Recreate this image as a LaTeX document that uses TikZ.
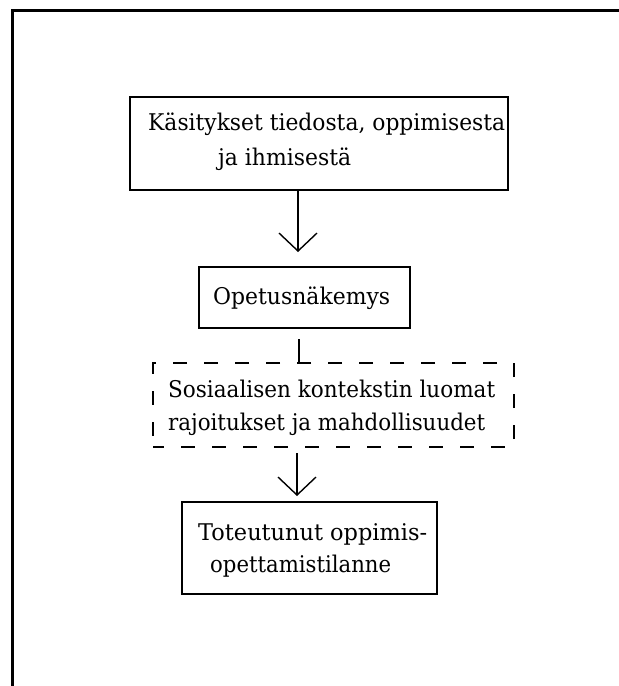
\documentclass[tikz,border=0pt]{standalone}
\usepackage{graphicx}
\usepackage{fontspec}
\setmainfont{DejaVu Serif}
\usetikzlibrary{arrows.meta}
\newcommand{\fitline}[2]{\resizebox{#1}{\height}{#2}}
\tikzset{
  boxstyle/.style={draw, line width=2pt, rectangle, inner sep=0pt},
  dashbox/.style={draw, line width=2pt, rectangle, inner sep=0pt, dash pattern=on 14pt off 17pt, dash phase=3pt},
  txt/.style={anchor=base west, inner sep=0pt, font=\fontsize{23}{27}\selectfont},
  conn/.style={line width=1.4pt},
  arr/.style={conn, -{Straight Barb[length=18pt, width=38pt, line width=1.4pt]}}
}
\begin{document}
\begin{tikzpicture}[x=1pt, y=-1pt]
\useasboundingbox (0,0) rectangle (619,686);
\fill[white] (0,0) rectangle (619,686);
% outer frame (cut off at right and bottom)
\draw[line width=3pt] (12.5,686) -- (12.5,10.5) -- (619,10.5);
% boxes
\node[boxstyle, minimum width=378pt, minimum height=93pt] (b1) at (319,143.5) {};
\node[boxstyle, minimum width=211pt, minimum height=61pt] (b2) at (304.5,297.5) {};
\node[dashbox, minimum width=361pt, minimum height=84pt] (b3) at (333.5,405) {};
\node[boxstyle, minimum width=255pt, minimum height=92pt] (b4) at (309.5,548) {};
% texts
\node[txt] (t1a) at (148,130) {\fitline{357pt}{Käsitykset tiedosta, oppimisesta}};
\node[txt] (t1b) at (218,165) {\fitline{133pt}{ja ihmisestä}};
\node[txt] (t2) at (213,304) {\fitline{177pt}{Opetusnäkemys}};
\node[txt] (t3a) at (168,397) {\fitline{327pt}{Sosiaalisen kontekstin luomat}};
\node[txt] (t3b) at (168,430) {\fitline{317pt}{rajoitukset ja mahdollisuudet}};
\node[txt] (t4a) at (198,540) {\fitline{229pt}{Toteutunut oppimis-}};
\node[txt] (t4b) at (210,572) {\fitline{181pt}{opettamistilanne}};
% connectors
\coordinate (ax1) at (298,0);
\coordinate (ax2) at (299,0);
\coordinate (ax3) at (297,0);
\draw[arr] (b1.south -| ax1) -- ([yshift=14pt]b2.north -| ax1);
\draw[conn] ([yshift=-10pt]b2.south -| ax2) -- (b3.north -| ax2);
\draw[arr] ([yshift=-5pt]b3.south -| ax3) -- ([yshift=5pt]b4.north -| ax3);
\end{tikzpicture}
\end{document}
